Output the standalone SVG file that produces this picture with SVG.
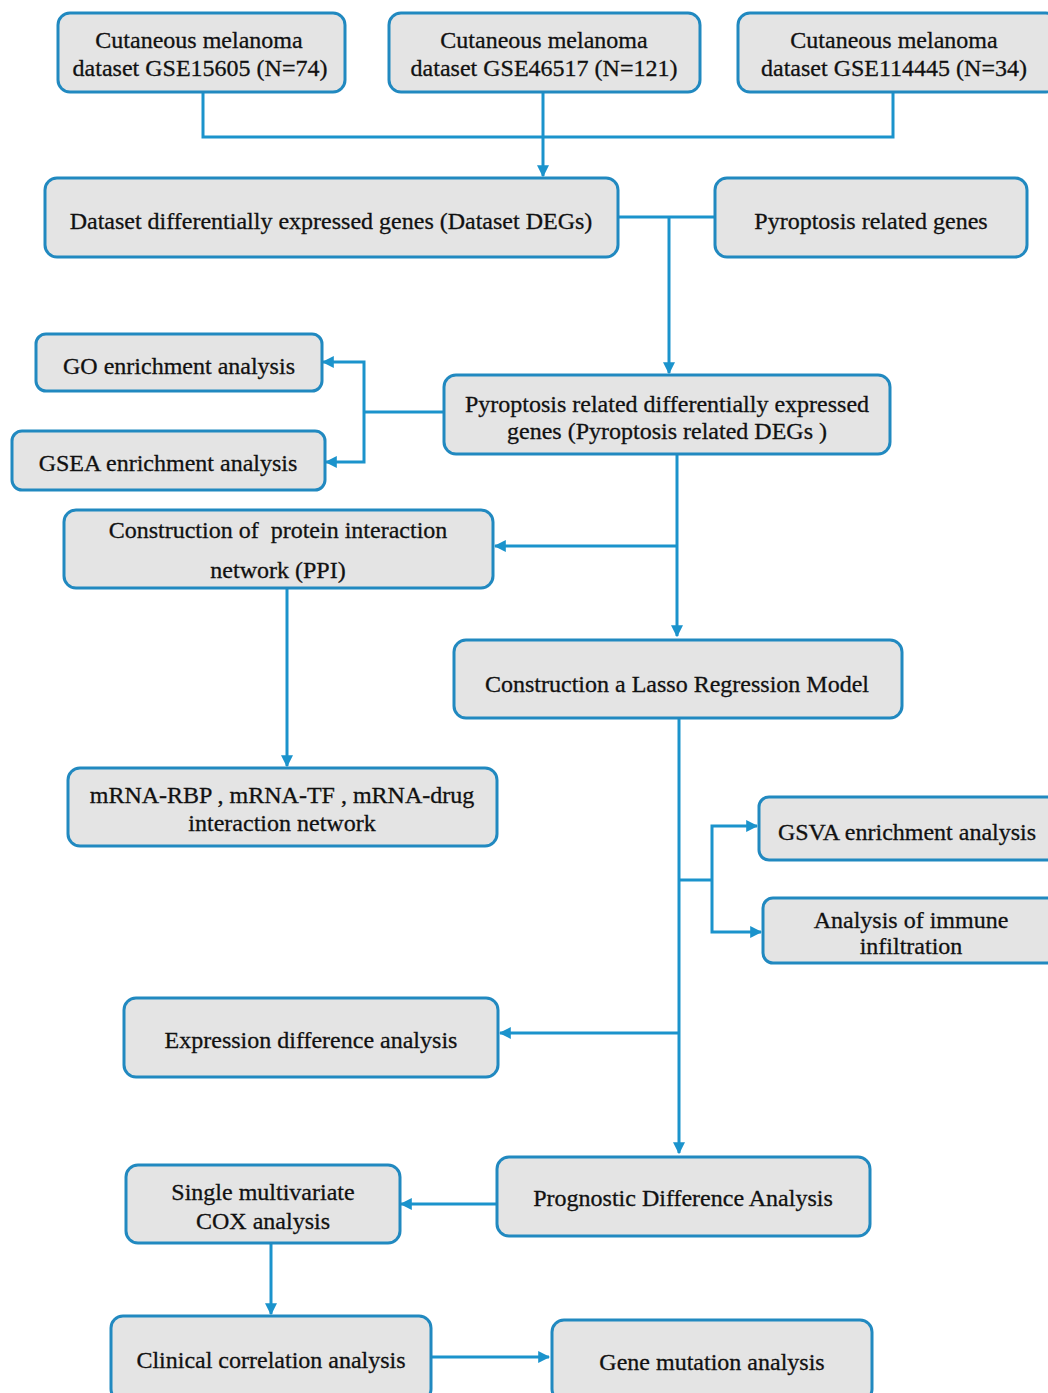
<svg xmlns="http://www.w3.org/2000/svg" width="1048" height="1393" viewBox="0 0 1048 1393">
<defs>
<marker id="ah" viewBox="0 0 10 10" refX="9" refY="5" markerWidth="4" markerHeight="4" orient="auto" markerUnits="strokeWidth">
<path d="M0,0 L10,5 L0,10 z" fill="#1b93cc"/>
</marker>
</defs>
<style>
.box{fill:#e4e4e4;stroke:#2189c0;stroke-width:3}
.t{font-family:"Liberation Serif","Times New Roman",serif;font-size:24px;fill:#111;stroke:#111;stroke-width:0.3;text-anchor:middle}
.c{fill:none;stroke:#1b93cc;stroke-width:3}
.a{fill:none;stroke:#1b93cc;stroke-width:3;marker-end:url(#ah)}
</style>
<rect width="1048" height="1393" fill="#ffffff"/>
<g id="connectors">
<path class="c" d="M203,92 V137 H893 V92"/>
<path class="a" d="M543,92 V176"/>
<path class="c" d="M618,217 H715"/>
<path class="a" d="M669,217 V373"/>
<path class="c" d="M444,412 H364"/>
<path class="a" d="M364,412 V362 H323"/>
<path class="a" d="M364,412 V462 H326"/>
<path class="a" d="M677,454 V636"/>
<path class="a" d="M677,546 H495"/>
<path class="a" d="M287,588 V766"/>
<path class="a" d="M679,718 V1153"/>
<path class="c" d="M679,880 H712"/>
<path class="a" d="M712,880 V826 H757"/>
<path class="a" d="M712,880 V932 H761"/>
<path class="a" d="M679,1033 H500"/>
<path class="a" d="M497,1204 H401"/>
<path class="a" d="M271,1243 V1314"/>
<path class="a" d="M431,1357 H549"/>
</g>
<g id="n1"><rect class="box" x="58" y="13" width="287" height="79" rx="12"/><text class="t" x="199" y="48">Cutaneous melanoma</text><text class="t" x="200" y="76">dataset GSE15605 (N=74)</text></g>
<g id="n2"><rect class="box" x="389" y="13" width="311" height="79" rx="12"/><text class="t" x="544" y="48">Cutaneous melanoma</text><text class="t" x="544" y="76">dataset GSE46517 (N=121)</text></g>
<g id="n3"><rect class="box" x="738" y="13" width="320" height="79" rx="12"/><text class="t" x="894" y="48">Cutaneous melanoma</text><text class="t" x="894" y="76">dataset GSE114445 (N=34)</text></g>
<g id="n4"><rect class="box" x="45" y="178" width="573" height="79" rx="12"/><text class="t" x="331" y="229">Dataset differentially expressed genes (Dataset DEGs)</text></g>
<g id="n5"><rect class="box" x="715" y="178" width="312" height="79" rx="12"/><text class="t" x="871" y="229">Pyroptosis related genes</text></g>
<g id="n6"><rect class="box" x="444" y="375" width="446" height="79" rx="12"/><text class="t" x="667" y="412">Pyroptosis related differentially expressed</text><text class="t" x="667" y="439">genes (Pyroptosis related DEGs )</text></g>
<g id="n7"><rect class="box" x="36" y="334" width="286" height="57" rx="10"/><text class="t" x="179" y="374">GO enrichment analysis</text></g>
<g id="n8"><rect class="box" x="12" y="431" width="313" height="59" rx="10"/><text class="t" x="168" y="471">GSEA enrichment analysis</text></g>
<g id="n9"><rect class="box" x="64" y="510" width="429" height="78" rx="12"/><text class="t" x="278" y="538" xml:space="preserve">Construction of  protein interaction</text><text class="t" x="278" y="578">network (PPI)</text></g>
<g id="n10"><rect class="box" x="454" y="640" width="448" height="78" rx="12"/><text class="t" x="677" y="692">Construction a Lasso Regression Model</text></g>
<g id="n11"><rect class="box" x="68" y="768" width="429" height="78" rx="12"/><text class="t" x="282" y="803">mRNA-RBP , mRNA-TF , mRNA-drug</text><text class="t" x="282" y="831">interaction network</text></g>
<g id="n12"><rect class="box" x="759" y="797" width="300" height="63" rx="10"/><text class="t" x="907" y="840">GSVA enrichment analysis</text></g>
<g id="n13"><rect class="box" x="763" y="898" width="296" height="65" rx="10"/><text class="t" x="911" y="928">Analysis of immune</text><text class="t" x="911" y="954">infiltration</text></g>
<g id="n14"><rect class="box" x="124" y="998" width="374" height="79" rx="12"/><text class="t" x="311" y="1048">Expression difference analysis</text></g>
<g id="n15"><rect class="box" x="497" y="1157" width="373" height="79" rx="12"/><text class="t" x="683" y="1206">Prognostic Difference Analysis</text></g>
<g id="n16"><rect class="box" x="126" y="1165" width="274" height="78" rx="12"/><text class="t" x="263" y="1200">Single multivariate</text><text class="t" x="263" y="1229">COX analysis</text></g>
<g id="n17"><rect class="box" x="111" y="1316" width="320" height="85" rx="12"/><text class="t" x="271" y="1368">Clinical correlation analysis</text></g>
<g id="n18"><rect class="box" x="552" y="1320" width="320" height="81" rx="12"/><text class="t" x="712" y="1370">Gene mutation analysis</text></g>
</svg>
